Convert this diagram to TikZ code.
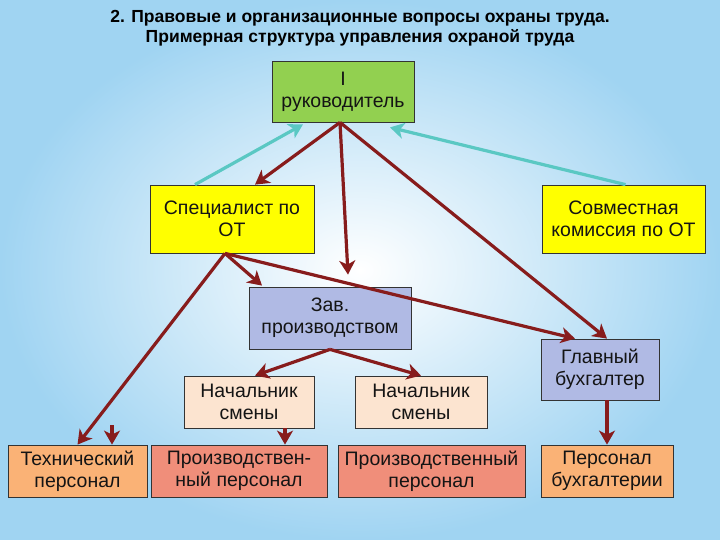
\documentclass[tikz,border=0pt]{standalone}
\usepackage{fontspec}
\setmainfont{Liberation Sans}
\usepackage{xcolor}
\usepackage{tikz}
\usetikzlibrary{arrows.meta, positioning, calc}
\definecolor{OTBgBlue}{RGB}{160, 212, 242}
\definecolor{OTGreen}{RGB}{146, 208, 80}
\definecolor{OTYellow}{RGB}{255, 255, 0}
\definecolor{OTLavender}{RGB}{176, 186, 228}
\definecolor{OTPeach}{RGB}{252, 228, 208}
\definecolor{OTOrange}{RGB}{250, 178, 118}
\definecolor{OTSalmon}{RGB}{240, 142, 122}
\definecolor{OTArrowRed}{RGB}{135, 28, 28}
\definecolor{OTCyan}{RGB}{90, 200, 195}
\definecolor{OTText}{RGB}{20, 20, 20}

\tikzset{
  otbox/.style={draw=black!80, line width=0.8pt, align=center, inner sep=1pt,
    text=OTText, font=\fontsize{19.5}{22}\selectfont},
  redarrow/.style={draw=OTArrowRed, line width=3.2pt,
    -{Stealth[length=14pt, width=16pt, inset=4pt]}},
  cyanarrow/.style={draw=OTCyan, line width=3.2pt,
    -{Stealth[length=14pt, width=16pt, inset=4pt]}}
}

\begin{document}
\begin{tikzpicture}[x=1pt,y=-1pt]
  \path[use as bounding box] (0,0) rectangle (720,540);

  % Background
  \shade[inner color=white, outer color=OTBgBlue] (0,0) rectangle (720,540);

  % Title
  \node[font=\fontsize{17.5}{20}\selectfont\bfseries, align=center] (title) at (360,28)
    {2. Правовые и организационные вопросы охраны труда.\\
     Примерная структура управления охраной труда};

  % Boxes
  \node[otbox, fill=OTGreen, minimum width=142, minimum height=61] (ruk) at (343,91.5) {I\\руководитель};
  \node[otbox, fill=OTYellow, minimum width=164, minimum height=68] (spec) at (232,219) {Специалист по\\ОТ};
  \node[otbox, fill=OTYellow, minimum width=163, minimum height=68] (sovm) at (623.5,219) {Совместная\\комиссия по ОТ};
  \node[otbox, fill=OTLavender, minimum width=162, minimum height=62] (zav) at (330,318) {Зав.\\производством};
  \node[otbox, fill=OTLavender, minimum width=118, minimum height=61] (glav) at (600,369.5) {Главный\\бухгалтер};
  \node[otbox, fill=OTPeach, minimum width=130, minimum height=52] (nachA) at (249,402) {Начальник\\смены};
  \node[otbox, fill=OTPeach, minimum width=132, minimum height=52] (nachB) at (421,402) {Начальник\\смены};
  \node[otbox, fill=OTOrange, minimum width=139, minimum height=52] (tech) at (77.5,471) {Технический\\персонал};
  \node[otbox, fill=OTSalmon, minimum width=176, minimum height=52] (prodA) at (239,471) {Производствен-\\ный персонал};
  \node[otbox, fill=OTSalmon, minimum width=187, minimum height=52] (prodB) at (431.5,471) {Производственный\\персонал};
  \node[otbox, fill=OTOrange, minimum width=132, minimum height=52] (pers) at (607,471) {Персонал\\бухгалтерии};

  % Feedback arrows
  \draw[cyanarrow] ([xshift=-37pt]spec.north) -- ([xshift=-40pt, yshift=-2pt]ruk.south);
  \draw[cyanarrow] ([xshift=2pt]sovm.north) -- ([xshift=47pt, yshift=-5pt]ruk.south);

  % From the head
  \draw[redarrow] ([xshift=-3pt]ruk.south) -- ([xshift=23pt]spec.north);
  \draw[redarrow] ([xshift=-3pt]ruk.south) -- ([xshift=18pt, yshift=12pt]zav.north);
  \draw[redarrow] ([xshift=-3pt]ruk.south) -- ([xshift=7pt]glav.north);

  % From the specialist
  \draw[redarrow] ([xshift=-7pt]spec.south) -- (tech.north);
  \draw[redarrow] ([xshift=-7pt]spec.south) -- ([xshift=-68pt, yshift=1pt]zav.north);
  \draw[redarrow] ([xshift=-7pt]spec.south) -- ([xshift=-25pt]glav.north);

  % Lower levels
  \draw[redarrow] (zav.south) -- ([xshift=6pt]nachA.north);
  \draw[redarrow] (zav.south) -- (nachB.north);
  \draw[redarrow] ([xshift=36pt]nachA.south) -- ([xshift=46pt]prodA.north);
  \draw[redarrow] ([xshift=7pt]glav.south) -- (pers.north);
  \coordinate (techtop) at (112,425);
  \draw[redarrow] (techtop) -- ([xshift=34.5pt]tech.north);
\end{tikzpicture}
\end{document}
